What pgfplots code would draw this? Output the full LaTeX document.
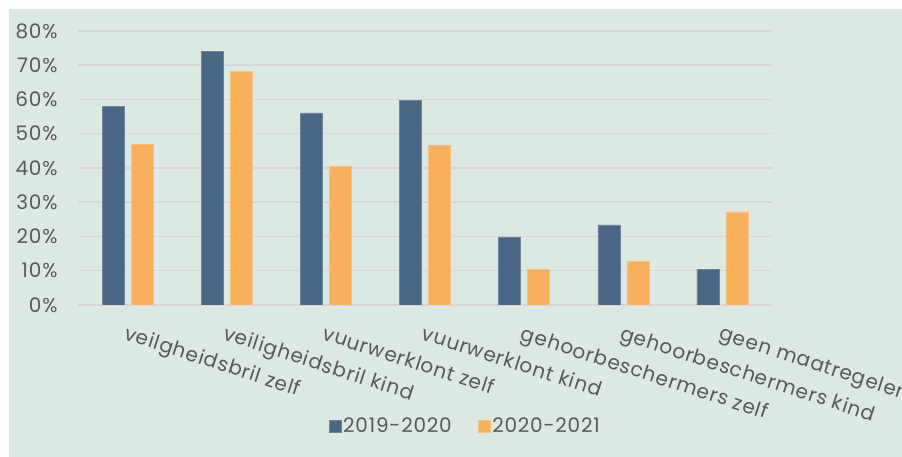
\documentclass[border=0pt]{standalone}
\usepackage{fontspec}
\setmainfont{Poppins}[LetterSpace=4]
\usepackage{pgfplots}
\pgfplotsset{compat=1.18}
\definecolor{bg}{HTML}{DCE8E2}
\definecolor{blueb}{HTML}{4A6885}
\definecolor{orangeb}{HTML}{F8B05C}
\definecolor{gridc}{HTML}{D9D6D6}
\definecolor{txt}{HTML}{595959}
\begin{document}
\begin{tikzpicture}[x=1pt,y=1pt]
\useasboundingbox (0,0) rectangle (902,457);
\fill[bg] (9,0) rectangle (902,448);
\begin{axis}[
  at={(78pt,152pt)}, anchor=south west,
  scale only axis, width=694pt, height=274pt,
  xmin=-0.5, xmax=6.5, ymin=0, ymax=0.8,
  ybar=7pt, bar width=22pt,
  axis line style={draw=none},
  major tick length=0pt,
  ytick={0,0.1,0.2,0.3,0.4,0.5,0.6,0.7,0.8},
  yticklabels={0\%,10\%,20\%,30\%,40\%,50\%,60\%,70\%,80\%},
  yticklabel style={font=\fontsize{20}{23}\selectfont, text=txt, xshift=-17pt},
  ymajorgrids, grid style={gridc, line width=1.5pt},
  xtick={0,1,2,3,4,5,6},
  xticklabels={veilgheidsbril zelf, veiligheidsbril kind, vuurwerklont zelf, vuurwerklont kind, gehoorbeschermers zelf, gehoorbeschermers kind, geen maatregelen},
  xticklabel style={rotate=-18, anchor=north west, font=\fontsize{20}{23}\selectfont, text=txt, yshift=-15pt, xshift=3pt},
  legend style={at={(0.558,-0.442)}, anchor=center, draw=none, fill=none,
    font=\fontsize{20}{23}\selectfont, text=txt, nodes={inner xsep=2pt},
    /tikz/every even column/.append style={column sep=24pt}},
  legend columns=2,
  legend image code/.code={\fill[#1] (0pt,-6pt) rectangle (12pt,6pt);},
]
\addplot[fill=blueb, draw=blueb!80!white, line width=0.5pt] coordinates {(0,0.581) (1,0.740) (2,0.561) (3,0.598) (4,0.199) (5,0.234) (6,0.105)};
\addplot[fill=orangeb, draw=orangeb!80!white, line width=0.5pt] coordinates {(0,0.468) (1,0.683) (2,0.404) (3,0.465) (4,0.104) (5,0.128) (6,0.272)};
\legend{2019-2020, 2020-2021}
\end{axis}
\end{tikzpicture}
\end{document}
